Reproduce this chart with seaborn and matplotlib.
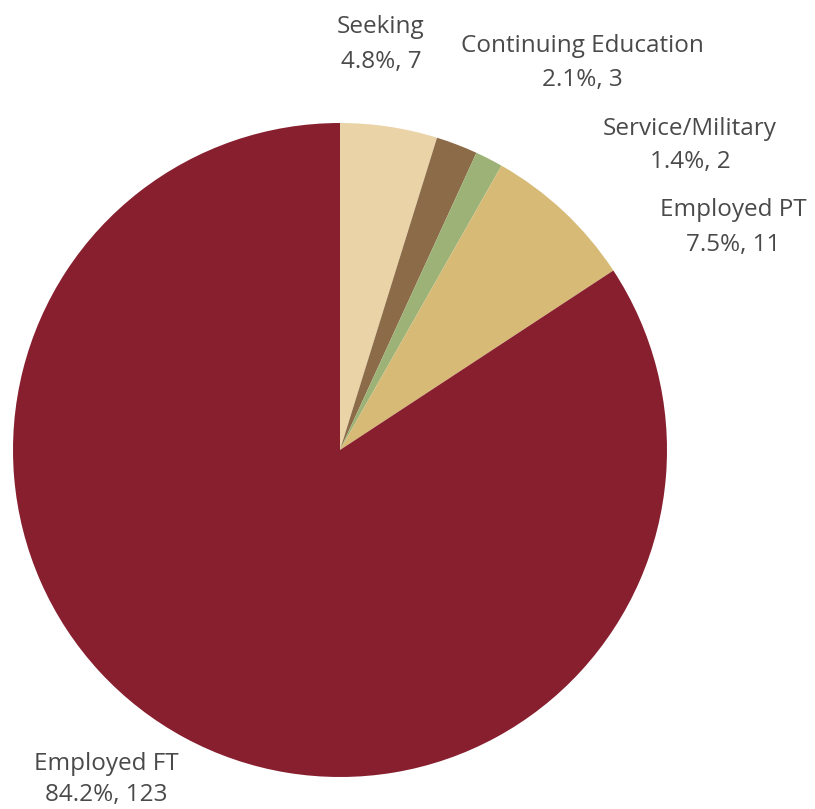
import matplotlib
matplotlib.use("Agg")
import matplotlib.pyplot as plt
import seaborn as sns

categories = ["Seeking", "Continuing Education", "Service/Military", "Employed PT", "Employed FT"]
counts = [7, 3, 2, 11, 123]
colors = ["#E9D3A7", "#8C6B48", "#9DB276", "#D6BA76", "#871F2F"]

# label placement: centre x and the two baselines (pixels from the top)
label_x = [381, 582, 690, 733, 106]
label_y1 = [33, 52, 135, 216, 770]
label_y2 = [68, 86, 168, 251, 801]

sns.set_theme(style="white")
plt.rcParams["font.family"] = ["Open Sans", "DejaVu Sans"]

W, H = 815, 809
fig = plt.figure(figsize=(W / 100, H / 100), dpi=100)
ax = fig.add_axes([0, 0, 1, 1])

ax.pie(counts, colors=colors, startangle=90, counterclock=False,
       center=(340, H - 450), radius=327, frame=True,
       wedgeprops=dict(linewidth=0))
ax.set_xlim(0, W)
ax.set_ylim(0, H)
ax.set_aspect("equal")
ax.axis("off")

total = sum(counts)
for cat, n, x, y1, y2 in zip(categories, counts, label_x, label_y1, label_y2):
    pct = 100 * n / total
    ax.text(x, H - y1, cat, ha="center", va="baseline",
            fontsize=17.5, color="#4a4a4a")
    ax.text(x, H - y2, f"{pct:.1f}%, {n}", ha="center", va="baseline",
            fontsize=17.5, color="#4a4a4a")

fig.savefig("out.png", dpi=100, facecolor="white")
